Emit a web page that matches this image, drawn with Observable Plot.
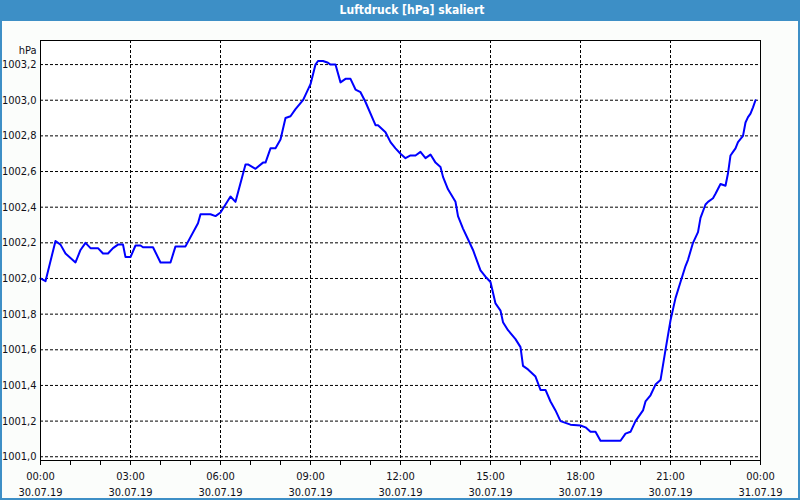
<!DOCTYPE html>
<html><head><meta charset="utf-8">
<script src="https://cdn.jsdelivr.net/npm/d3@7"></script>
<script src="https://cdn.jsdelivr.net/npm/@observablehq/plot@0.6"></script>
<style>
html,body{margin:0;padding:0;background:#FBFDFB;}
#wrap{position:relative;width:800px;height:500px;overflow:hidden;background:#FBFDFB;font-family:"DejaVu Sans Condensed","DejaVu Sans",sans-serif;}
#title{position:absolute;left:0;top:0;width:800px;height:21px;background:#3D8FC6;color:#fff;font-weight:bold;font-size:12px;line-height:21px;text-align:center;padding-left:24px;box-sizing:border-box;}
#chart{position:absolute;left:0;top:21px;}
#border{position:absolute;left:0;top:0;width:800px;height:500px;box-sizing:border-box;border:2px solid #3D8FC6;border-top:none;pointer-events:none;}
</style></head>
<body>
<div id="wrap">
  <div id="title">Luftdruck [hPa] skaliert</div>
  <div id="chart"></div>
  <div id="border"></div>
</div>
<script>
const day = "2019-07-30";
const nextDay = "2019-07-31";
const times = ["00:00","00:10","00:30","00:40","00:50","01:10","01:20","01:30","01:40","01:55",
"02:05","02:15","02:25","02:35","02:45","02:50","03:00","03:10","03:20","03:25",
"03:45","04:00","04:20","04:30","04:50","05:15","05:20","05:40","05:50","06:00",
"06:20","06:30","06:50","06:55","07:10","07:25","07:30","07:40","07:50","08:00",
"08:10","08:20","08:30","08:45","08:50","09:00","09:10","09:15","09:25","09:35",
"09:40","09:50","10:00","10:10","10:20","10:30","10:40","10:50","11:10","11:15",
"11:30","11:40","11:50","12:00","12:10","12:20","12:30","12:40","12:50","13:00",
"13:10","13:20","13:25","13:35","13:50","13:55","14:05","14:15","14:25","14:40",
"14:50","15:00","15:10","15:20","15:25","15:35","15:50","16:00","16:05","16:15",
"16:30","16:40","16:50","17:00","17:10","17:20","17:30","17:40","18:00","18:10",
"18:20","18:30","18:40","19:20","19:30","19:40","19:50","20:05","20:10","20:20",
"20:30","20:40","20:50","21:00","21:10","21:20","21:30","21:35","21:45","21:55",
"22:00","22:10","22:15","22:25","22:30","22:40","22:50","22:55","23:00","23:05",
"23:10","23:15","23:25","23:30","23:35","23:40","23:45","23:50"];
const pressure = [1002.00,1001.985,1002.21,1002.19,1002.14,1002.09,1002.16,1002.20,1002.17,1002.17,
1002.14,1002.14,1002.17,1002.19,1002.19,1002.12,1002.12,1002.185,1002.185,1002.175,
1002.175,1002.09,1002.09,1002.18,1002.18,1002.31,1002.36,1002.36,1002.35,1002.37,
1002.46,1002.43,1002.64,1002.64,1002.615,1002.65,1002.65,1002.73,1002.73,1002.78,
1002.90,1002.91,1002.95,1003.00,1003.03,1003.09,1003.20,1003.22,1003.22,1003.21,
1003.20,1003.20,1003.10,1003.12,1003.12,1003.06,1003.045,1002.99,1002.86,1002.86,
1002.82,1002.765,1002.73,1002.70,1002.675,1002.69,1002.69,1002.71,1002.675,1002.695,
1002.65,1002.625,1002.57,1002.50,1002.43,1002.35,1002.28,1002.22,1002.16,1002.045,
1002.01,1001.98,1001.86,1001.82,1001.755,1001.71,1001.66,1001.615,1001.51,1001.49,
1001.45,1001.375,1001.375,1001.31,1001.26,1001.20,1001.19,1001.18,1001.175,1001.165,
1001.14,1001.14,1001.09,1001.09,1001.13,1001.14,1001.20,1001.26,1001.31,1001.345,
1001.405,1001.43,1001.60,1001.765,1001.89,1001.98,1002.07,1002.105,1002.20,1002.26,
1002.34,1002.415,1002.43,1002.45,1002.475,1002.53,1002.52,1002.59,1002.69,1002.71,
1002.73,1002.765,1002.80,1002.875,1002.905,1002.925,1002.96,1003.00];
const yTicks = [1001.0,1001.2,1001.4,1001.6,1001.8,1002.0,1002.2,1002.4,1002.6,1002.8,1003.0,1003.2];
const xLabelTimes = ["00:00","03:00","06:00","09:00","12:00","15:00","18:00","21:00"];
const yDomain = [1000.979, 1003.335];

const parse = (d, t) => new Date(`${d}T${t}:00`);
const data = times.map((t, i) => ({date: parse(day, t), value: pressure[i]}));
const start = parse(day, "00:00");
const end = parse(nextDay, "00:00");
const labelDates = xLabelTimes.map(t => parse(day, t)).concat([end]);
const gridDates = labelDates.slice(1, -1);
const hourTicks = d3.timeHour.range(start, d3.timeHour.offset(end, 1));
const fmtT = d3.timeFormat("%H:%M"), fmtD = d3.timeFormat("%d.%m.%y");
const textColor = "#101018";
const dash = "3,2";

const chart = Plot.plot({
  width: 800, height: 479,
  marginLeft: 40, marginRight: 40, marginTop: 19, marginBottom: 40,
  style: {background: "transparent", fontFamily: '"DejaVu Sans Condensed","DejaVu Sans",sans-serif', fontSize: "11px", color: textColor},
  x: {type: "time", domain: [start, end]},
  y: {domain: yDomain},
  marks: [
    Plot.frame({fill: "white", stroke: "none"}),
    Plot.gridY(yTicks, {stroke: "black", strokeOpacity: 1, strokeDasharray: dash}),
    Plot.gridX(gridDates, {stroke: "black", strokeOpacity: 1, strokeDasharray: dash}),
    Plot.line(data, {x: "date", y: "value", stroke: "#0000FF", strokeWidth: 2}),
    Plot.frame({stroke: "black"}),
    Plot.axisX(hourTicks, {tickSize: 5, tickFormat: () => "", stroke: "black", label: null}),
    Plot.axisX(labelDates, {tickSize: 0, tickPadding: 8, tickFormat: d => fmtT(d) + "\n" + fmtD(d), lineHeight: 1.45, fill: textColor, label: null}),
    Plot.axisY(yTicks, {tickSize: 0, tickPadding: 4, tickFormat: d => d.toFixed(1).replace(".", ","), fill: textColor, label: null}),
    Plot.text(["hPa"], {frameAnchor: "top-left", dx: -4, dy: 6, textAnchor: "end", fill: textColor})
  ]
});
document.getElementById("chart").appendChild(chart);
</script>
</body></html>
